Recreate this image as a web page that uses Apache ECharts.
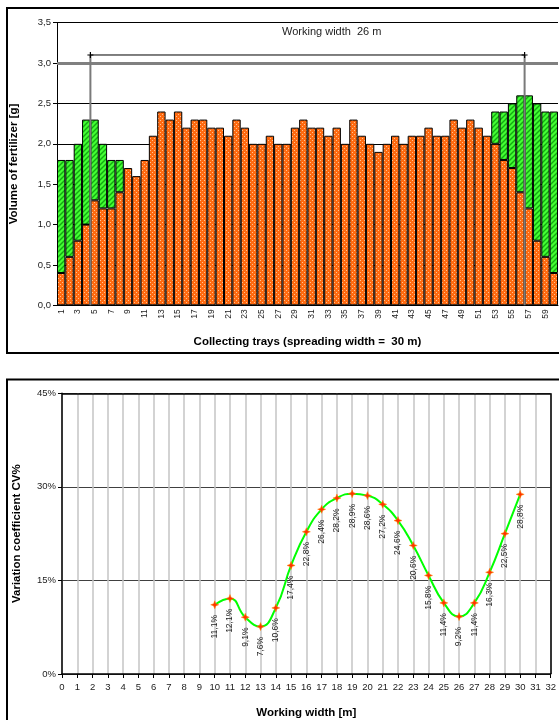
<!DOCTYPE html>
<html>
<head>
<meta charset="utf-8">
<script src="https://cdn.jsdelivr.net/npm/echarts@6/dist/echarts.min.js"></script>
<style>
    html, body { margin: 0; padding: 0; background: #fff; }
    #chart { width: 559px; height: 720px; }
</style>
</head>
<body>
<div id="chart"></div>
<script>
// 收集盘编号 (1..60)
const trays = ['1','2','3','4','5','6','7','8','9','10','11','12','13','14','15','16','17','18','19','20',
    '21','22','23','24','25','26','27','28','29','30','31','32','33','34','35','36','37','38','39','40',
    '41','42','43','44','45','46','47','48','49','50','51','52','53','54','55','56','57','58','59','60'];

// 单次撒布量 [g]
const baseVolume = [0.4, 0.6, 0.8, 1.0, 1.3, 1.2, 1.2, 1.4, 1.7, 1.6,
    1.8, 2.1, 2.4, 2.3, 2.4, 2.2, 2.3, 2.3, 2.2, 2.2,
    2.1, 2.3, 2.2, 2.0, 2.0, 2.1, 2.0, 2.0, 2.2, 2.3,
    2.2, 2.2, 2.1, 2.2, 2.0, 2.3, 2.1, 2.0, 1.9, 2.0,
    2.1, 2.0, 2.1, 2.1, 2.2, 2.1, 2.1, 2.3, 2.2, 2.3,
    2.2, 2.1, 2.0, 1.8, 1.7, 1.4, 1.2, 0.8, 0.6, 0.4];

// 相邻行程重叠量 [g]
const overlapVolume = [1.4, 1.2, 1.2, 1.3, 1.0, 0.8, 0.6, 0.4, null, null,
    null, null, null, null, null, null, null, null, null, null,
    null, null, null, null, null, null, null, null, null, null,
    null, null, null, null, null, null, null, null, null, null,
    null, null, null, null, null, null, null, null, null, null,
    null, null, 0.4, 0.6, 0.8, 1.2, 1.4, 1.7, 1.8, 2.0];

// 工作幅宽标注 (盘边界) 与高度
const workingEdges = [4, 56];
const bracketLevel = 3.1;

// 变异系数
const workWidths = [10, 11, 12, 13, 14, 15, 16, 17, 18, 19, 20, 21, 22, 23, 24, 25, 26, 27, 28, 29, 30];
const cvValues = [11.1, 12.1, 9.1, 7.6, 10.6, 17.4, 22.8, 26.4, 28.2, 28.9, 28.6,
    27.2, 24.6, 20.6, 15.8, 11.4, 9.2, 11.4, 16.3, 22.5, 28.8];

const FONT = '"Liberation Sans", Arial, sans-serif';

function dotPattern() {
    const c = document.createElement('canvas');
    c.width = 4; c.height = 4;
    const ctx = c.getContext('2d');
    ctx.fillStyle = '#FF6A10';
    ctx.fillRect(0, 0, 4, 4);
    ctx.fillStyle = '#FFC190';
    ctx.fillRect(0, 0, 1, 1);
    ctx.fillRect(2, 2, 1, 1);
    return c;
}

function hatchPattern() {
    const c = document.createElement('canvas');
    c.width = 5; c.height = 5;
    const ctx = c.getContext('2d');
    ctx.fillStyle = '#44FF33';
    ctx.fillRect(0, 0, 5, 5);
    ctx.strokeStyle = '#13A813';
    ctx.lineWidth = 1.4;
    ctx.beginPath();
    ctx.moveTo(-1, 6); ctx.lineTo(6, -1);
    ctx.moveTo(-1, 1); ctx.lineTo(1, -1);
    ctx.moveTo(4, 6); ctx.lineTo(6, 4);
    ctx.stroke();
    return c;
}

const chart = echarts.init(document.getElementById('chart'), null, { renderer: 'canvas' });

const crossSymbol = 'path://M4,0h2v4h4v2h-4v4h-2v-4h-4v-2h4z';
const starSymbol = 'path://M5,0L6.4,3.6L10,5L6.4,6.4L5,10L3.6,6.4L0,5L3.6,3.6Z';

const option = {
    animation: false,
    textStyle: { fontFamily: FONT },
    graphic: [
        { type: 'rect', shape: { x: 7, y: 8, width: 600, height: 345 },
          style: { fill: 'none', stroke: '#000', lineWidth: 2 }, z: 0 },
        { type: 'rect', shape: { x: 7, y: 379.5, width: 600, height: 400 },
          style: { fill: 'none', stroke: '#000', lineWidth: 2 }, z: 0 },
        { type: 'text', left: 282, top: 26,
          style: { text: 'Working width  26 m', font: '11px ' + FONT, fill: '#222' }, z: 10 }
    ],
    grid: [
        { left: 57, top: 22.7, width: 501, height: 282.6 },
        { left: 62, top: 393.3, width: 490.7, height: 280.7 }
    ],
    xAxis: [
        {
            type: 'category', gridIndex: 0, data: trays,
            axisLine: { lineStyle: { color: '#000', width: 1 } },
            axisTick: { interval: 0, length: 4, lineStyle: { color: '#000' } },
            axisLabel: { interval: 1, rotate: 90, fontSize: 8.5, color: '#222', margin: 4 },
            name: 'Collecting trays (spreading width =  30 m)',
            nameLocation: 'middle', nameGap: 31,
            nameTextStyle: { fontWeight: 'bold', fontSize: 11.5, color: '#000' }
        },
        {
            type: 'value', gridIndex: 0, min: 0, max: 60, show: false
        },
        {
            type: 'value', gridIndex: 1, min: 0, max: 32, interval: 1,
            axisLine: { lineStyle: { color: '#000', width: 1.5 } },
            axisTick: { length: 4, lineStyle: { color: '#000' } },
            axisLabel: { fontSize: 9.5, color: '#222', margin: 8 },
            splitLine: { show: true, lineStyle: { color: '#c4c4c4', width: 1.5 } },
            name: 'Working width [m]',
            nameLocation: 'middle', nameGap: 33,
            nameTextStyle: { fontWeight: 'bold', fontSize: 11.5, color: '#000' }
        }
    ],
    yAxis: [
        {
            type: 'value', gridIndex: 0, min: 0, max: 3.5, interval: 0.5,
            axisLine: { show: true, lineStyle: { color: '#000' } },
            axisTick: { show: true, length: 4, lineStyle: { color: '#000' } },
            axisLabel: { fontSize: 9.5, color: '#222', margin: 6,
                formatter: v => v.toFixed(1).replace('.', ',') },
            splitLine: { lineStyle: { color: '#000', width: 1 } },
            name: 'Volume of fertilizer [g]',
            nameLocation: 'middle', nameGap: 37,
            nameTextStyle: { fontWeight: 'bold', fontSize: 11.5, color: '#000' }
        },
        {
            type: 'value', gridIndex: 1, min: 0, max: 45, interval: 15,
            axisLine: { show: true, lineStyle: { color: '#000', width: 1.5 } },
            axisTick: { show: true, length: 4, lineStyle: { color: '#000' } },
            axisLabel: { fontSize: 9.5, color: '#222', margin: 6, formatter: '{value}%' },
            splitLine: { lineStyle: { color: '#404040', width: 1 } },
            name: 'Variation coefficient CV%',
            nameLocation: 'middle', nameGap: 39,
            nameTextStyle: { fontWeight: 'bold', fontSize: 11.5, color: '#000' }
        }
    ],
    series: [
        {
            name: 'Single pass', type: 'bar', xAxisIndex: 0, yAxisIndex: 0,
            stack: 'vol', data: baseVolume, barCategoryGap: '0%',
            itemStyle: { color: { image: dotPattern(), repeat: 'repeat' },
                borderColor: '#000', borderWidth: 1 },
            markLine: {
                silent: true, symbol: 'none', label: { show: false },
                lineStyle: { color: '#808080', width: 3, type: 'solid' },
                data: [{ yAxis: 3.0 }]
            }
        },
        {
            name: 'Overlap', type: 'bar', xAxisIndex: 0, yAxisIndex: 0,
            stack: 'vol', data: overlapVolume, barCategoryGap: '0%',
            itemStyle: { color: { image: hatchPattern(), repeat: 'repeat' },
                borderColor: '#000', borderWidth: 1 }
        },
        {
            type: 'line', xAxisIndex: 1, yAxisIndex: 0, silent: true, z: 5,
            data: [[workingEdges[0], 0], [workingEdges[0], bracketLevel]],
            symbol: 'none', lineStyle: { color: '#7a7a7a', width: 2 }
        },
        {
            type: 'line', xAxisIndex: 1, yAxisIndex: 0, silent: true, z: 5,
            data: [[workingEdges[1], 0], [workingEdges[1], bracketLevel]],
            symbol: 'none', lineStyle: { color: '#7a7a7a', width: 2 }
        },
        {
            type: 'line', xAxisIndex: 1, yAxisIndex: 0, silent: true, z: 6,
            data: [[workingEdges[0], bracketLevel], [workingEdges[1], bracketLevel]],
            symbol: crossSymbol, symbolSize: 6, itemStyle: { color: '#000' },
            lineStyle: { color: '#000', width: 1 }
        },
        {
            name: 'CV', type: 'line', xAxisIndex: 2, yAxisIndex: 1,
            data: workWidths.map((w, i) => [w, cvValues[i]]),
            smooth: 0.5,
            lineStyle: { color: '#00FF00', width: 2 },
            symbol: starSymbol, symbolSize: 8,
            itemStyle: { color: '#FF3300', borderColor: '#FF8800', borderWidth: 0.5 },
            label: {
                show: true, position: 'bottom', rotate: 90, distance: 6,
                align: 'right', verticalAlign: 'middle',
                fontSize: 8.5, color: '#222',
                formatter: p => p.value[1].toFixed(1).replace('.', ',') + '%'
            },
            markLine: {
                silent: true, symbol: 'none', label: { show: false },
                lineStyle: { color: '#000', width: 1.5, type: 'solid' },
                data: [{ xAxis: 32 }, { yAxis: 45 }]
            },
            z: 8
        }
    ]
};

chart.setOption(option);
</script>
</body>
</html>
